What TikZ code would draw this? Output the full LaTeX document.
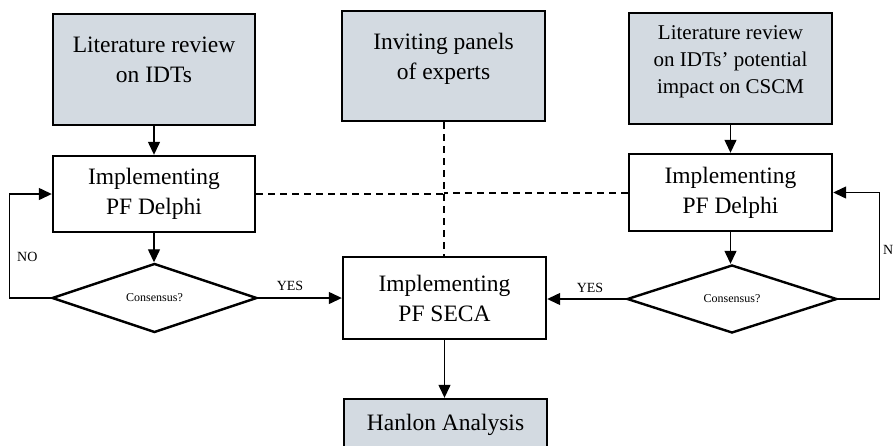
\documentclass[tikz,border=0pt]{standalone}
\usepackage{fontspec}
\setmainfont{Liberation Serif}
\usetikzlibrary{arrows.meta,shapes.geometric}
\definecolor{boxgray}{RGB}{211,218,225}
\newcommand\liftup[2]{\raisebox{#1}[\height][\depth]{\begin{tabular}{@{}c@{}}#2\end{tabular}}}
\begin{document}
\begin{tikzpicture}[x=1pt,y=-1pt,
 box/.style={draw=black, line width=2.4pt, rectangle, inner sep=0pt, font=\fontsize{23.5}{30}\selectfont, align=center},
 graybox/.style={box, fill=boxgray},
 decision/.style={draw=black, line width=2.4pt, diamond, aspect=3, inner sep=0pt, font=\fontsize{12}{14}\selectfont},
 link/.style={line width=1.3pt, -{Triangle[length=13pt,width=12pt]}},
 dashlink/.style={line width=2pt, dash pattern=on 7pt off 5pt},
 lbl/.style={font=\fontsize{14}{16}\selectfont, inner sep=0pt}
]
\useasboundingbox (0,0) rectangle (893,445);

\node[graybox, minimum width=202pt, minimum height=111pt] (lit1) at (154,69.5) {\liftup{8pt}{Literature review\\on IDTs}};
\node[graybox, minimum width=203pt, minimum height=110pt] (inv) at (443.5,66) {\liftup{8pt}{Inviting panels\\of experts}};
\node[graybox, minimum width=203pt, minimum height=111pt, font=\fontsize{21}{27}\selectfont] (lit3) at (730.5,68.5) {\liftup{7pt}{Literature review\\on IDTs’ potential\\impact on CSCM}};

\node[box, fill=white, minimum width=202pt, minimum height=76pt] (del1) at (154,194) {Implementing\\PF Delphi};
\node[box, fill=white, minimum width=203pt, minimum height=77pt] (del3) at (730.5,192.5) {Implementing\\PF Delphi};

\node[decision, minimum width=205pt, minimum height=69pt] (dia1) at (154.5,298) {Consensus?};
\node[decision, minimum width=210pt, minimum height=68pt] (dia3) at (732,299) {Consensus?};

\node[box, fill=white, minimum width=203pt, minimum height=82pt] (seca) at (444.5,298) {Implementing\\PF SECA};
\node[graybox, minimum width=203pt, minimum height=51pt] (han) at (445.5,424.5) {Hanlon Analysis};

% solid connectors
\draw[link] (lit1.south) -- (lit1.south |- del1.north);
\draw[link] (lit3.south) -- (lit3.south |- del3.north);
\draw[link] (del1.south) -- (del1.south |- dia1.north);
\draw[link] (del3.south) -- (del3.south |- dia3.north);
\draw[link] (dia1.east) -- (dia1.east -| seca.west);
\draw[link] (dia3.west) -- (dia3.west -| seca.east);
\draw[link] (seca.south) -- (seca.south |- han.north);
\draw[link] (dia1.west) -- ++(-41,0) |- (del1.west);
\draw[link] (dia3.east) -- ++(41,0) |- (del3.east);

% dashed links
\draw[dashlink] (inv.south) -- (inv.south |- seca.north);
\draw[dashlink] (del1.east) -- (del1.east -| inv.south);
\draw[dashlink] (del3.west) -- (del3.west -| inv.south);

% labels
\node[lbl, anchor=west] (no1) at (17,257) {NO};
\node[lbl, anchor=west] (no3) at (883,250) {NO};
\node[lbl] (yes1) at (290,286) {YES};
\node[lbl] (yes3) at (590,288) {YES};
\end{tikzpicture}
\end{document}
